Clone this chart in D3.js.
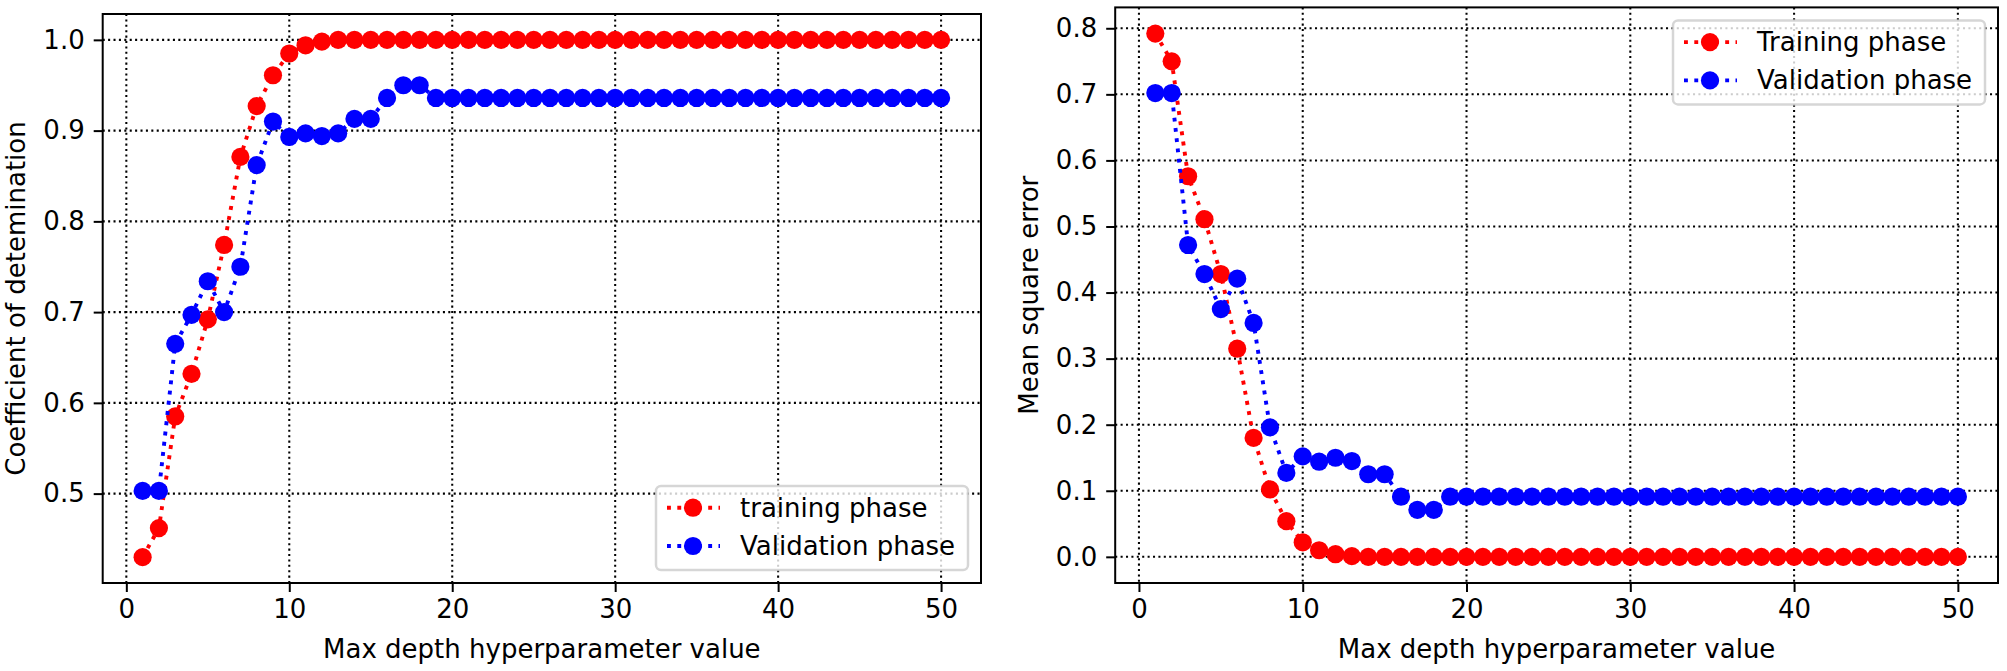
<!DOCTYPE html>
<html>
<head>
<meta charset="utf-8">
<script src="https://cdn.jsdelivr.net/npm/d3@7"></script>
<style>
  body { margin: 0; background: #fff; }
  svg text { font-family: "DejaVu Sans", sans-serif; }
</style>
</head>
<body>
<div id="chart"></div>
<script>
// max depth hyperparameter values (x)
var depth = [1, 2, 3, 4, 5, 6, 7, 8, 9, 10, 11, 12, 13, 14, 15, 16, 17, 18, 19, 20,
             21, 22, 23, 24, 25, 26, 27, 28, 29, 30, 31, 32, 33, 34, 35, 36, 37, 38, 39, 40,
             41, 42, 43, 44, 45, 46, 47, 48, 49, 50];

// left panel: coefficient of determination
var r2Train = [0.430, 0.462, 0.585, 0.632, 0.692, 0.774, 0.871, 0.927, 0.961, 0.985,
               0.994, 0.998, 1.0, 1.0, 1.0, 1.0, 1.0, 1.0, 1.0, 1.0,
               1.0, 1.0, 1.0, 1.0, 1.0, 1.0, 1.0, 1.0, 1.0, 1.0,
               1.0, 1.0, 1.0, 1.0, 1.0, 1.0, 1.0, 1.0, 1.0, 1.0,
               1.0, 1.0, 1.0, 1.0, 1.0, 1.0, 1.0, 1.0, 1.0, 1.0];
var r2Val = [0.503, 0.503, 0.665, 0.697, 0.734, 0.700, 0.750, 0.862, 0.910, 0.893,
             0.897, 0.894, 0.897, 0.913, 0.913, 0.936, 0.950, 0.950, 0.936, 0.936,
             0.936, 0.936, 0.936, 0.936, 0.936, 0.936, 0.936, 0.936, 0.936, 0.936,
             0.936, 0.936, 0.936, 0.936, 0.936, 0.936, 0.936, 0.936, 0.936, 0.936,
             0.936, 0.936, 0.936, 0.936, 0.936, 0.936, 0.936, 0.936, 0.936, 0.936];

// right panel: mean square error
var mseTrain = [0.792, 0.750, 0.576, 0.511, 0.428, 0.315, 0.180, 0.102, 0.054, 0.022,
                0.010, 0.004, 0.001, 0.0, 0.0, 0.0, 0.0, 0.0, 0.0, 0.0,
                0.0, 0.0, 0.0, 0.0, 0.0, 0.0, 0.0, 0.0, 0.0, 0.0,
                0.0, 0.0, 0.0, 0.0, 0.0, 0.0, 0.0, 0.0, 0.0, 0.0,
                0.0, 0.0, 0.0, 0.0, 0.0, 0.0, 0.0, 0.0, 0.0, 0.0];
var mseVal = [0.702, 0.702, 0.472, 0.428, 0.375, 0.421, 0.354, 0.196, 0.127, 0.152,
              0.144, 0.150, 0.145, 0.125, 0.125, 0.091, 0.071, 0.071, 0.091, 0.091,
              0.091, 0.091, 0.091, 0.091, 0.091, 0.091, 0.091, 0.091, 0.091, 0.091,
              0.091, 0.091, 0.091, 0.091, 0.091, 0.091, 0.091, 0.091, 0.091, 0.091,
              0.091, 0.091, 0.091, 0.091, 0.091, 0.091, 0.091, 0.091, 0.091, 0.091];

var xTicks = [0, 10, 20, 30, 40, 50];
var r2Ticks = [0.5, 0.6, 0.7, 0.8, 0.9, 1.0];
var mseTicks = [0.0, 0.1, 0.2, 0.3, 0.4, 0.5, 0.6, 0.7, 0.8];

var W = 2007, H = 671;
var fontPx = 26;
var svg = d3.select('#chart').append('svg').attr('width', W).attr('height', H);

function drawPanel(opt){
    var x = d3.scaleLinear().domain([-1.45, 52.45]).range([opt.left, opt.right]);
    var y = d3.scaleLinear().domain(opt.yDomain).range([opt.bottom, opt.top]);
    var g = svg.append('g');

    // grid (dotted)
    g.append('g').selectAll('line.vg').data(xTicks).enter().append('line')
        .attr('x1', function(d){return x(d)}).attr('x2', function(d){return x(d)})
        .attr('y1', opt.top).attr('y2', opt.bottom)
        .attr('stroke', '#000').attr('stroke-width', 2.05).attr('stroke-dasharray', '2.05,3.35');
    g.append('g').selectAll('line.hg').data(opt.yTicks).enter().append('line')
        .attr('y1', function(d){return y(d)}).attr('y2', function(d){return y(d)})
        .attr('x1', opt.left).attr('x2', opt.right)
        .attr('stroke', '#000').attr('stroke-width', 2.05).attr('stroke-dasharray', '2.05,3.35');

    // series
    var line = d3.line().x(function(d){return x(d[0])}).y(function(d){return y(d[1])});
    opt.series.forEach(function(s){
        var pts = depth.map(function(d, i){return [d, s.values[i]]});
        g.append('path').attr('d', line(pts)).attr('fill', 'none')
            .attr('stroke', s.color).attr('stroke-width', 3.9)
            .attr('stroke-dasharray', '3.9,6.4');
        g.append('g').selectAll('circle').data(pts).enter().append('circle')
            .attr('cx', function(d){return x(d[0])})
            .attr('cy', function(d){return y(d[1])})
            .attr('r', 9.1).attr('fill', s.color);
    });

    // axes
    var ax = g.append('g').attr('transform', 'translate(0,' + opt.bottom + ')')
        .call(d3.axisBottom(x).tickValues(xTicks).tickSize(9).tickPadding(8).tickFormat(d3.format('d')));
    var ay = g.append('g').attr('transform', 'translate(' + opt.left + ',0)')
        .call(d3.axisLeft(y).tickValues(opt.yTicks).tickSize(9).tickPadding(9).tickFormat(d3.format('.1f')));
    [ax, ay].forEach(function(a){
        a.select('.domain').remove();
        a.selectAll('line').attr('stroke', '#000').attr('stroke-width', 2);
        a.selectAll('text').attr('font-size', fontPx).attr('fill', '#000')
            .style('font-family', '"DejaVu Sans", sans-serif');
    });

    // frame
    g.append('rect').attr('x', opt.left).attr('y', opt.top)
        .attr('width', opt.right - opt.left).attr('height', opt.bottom - opt.top)
        .attr('fill', 'none').attr('stroke', '#000').attr('stroke-width', 2);

    // labels
    g.append('text').attr('x', (opt.left + opt.right) / 2).attr('y', 658)
        .attr('text-anchor', 'middle').attr('font-size', fontPx).text('Max depth hyperparameter value');
    g.append('text').attr('transform', 'translate(' + opt.ylabelX + ',' + ((opt.top + opt.bottom) / 2) + ') rotate(-90)')
        .attr('text-anchor', 'middle').attr('dy', '0.35em').attr('font-size', fontPx).text(opt.ylabel);

    // legend
    var lw = 312, lh = 84;
    var lx = opt.right - 13 - lw;
    var ly = opt.legendPos === 'lower' ? opt.bottom - 13 - lh : opt.top + 13;
    var lg = g.append('g').attr('transform', 'translate(' + lx + ',' + ly + ')');
    lg.append('rect').attr('width', lw).attr('height', lh).attr('rx', 5).attr('ry', 5)
        .attr('fill', 'rgba(255,255,255,0.8)').attr('stroke', 'rgba(204,204,204,0.8)').attr('stroke-width', 2.5);
    opt.series.forEach(function(s, i){
        var cy = 21.7 + i * 38.3;
        lg.append('line').attr('x1', 11).attr('x2', 64).attr('y1', cy).attr('y2', cy)
            .attr('stroke', s.color).attr('stroke-width', 3.9).attr('stroke-dasharray', '3.9,6.4');
        lg.append('circle').attr('cx', 37).attr('cy', cy).attr('r', 9.1).attr('fill', s.color);
        lg.append('text').attr('x', 84).attr('y', cy).attr('dy', '0.35em')
            .attr('font-size', fontPx).text(s.name);
    });
}

drawPanel({
    left: 102.7, right: 981, top: 14, bottom: 583,
    yDomain: [0.4015, 1.0285], yTicks: r2Ticks,
    ylabel: 'Coefficient of detemination', ylabelX: 16,
    legendPos: 'lower',
    series: [
        {name: 'training phase', color: 'red', values: r2Train},
        {name: 'Validation phase', color: 'blue', values: r2Val}
    ]
});

drawPanel({
    left: 1115.2, right: 1998, top: 7.4, bottom: 583,
    yDomain: [-0.0396, 0.8316], yTicks: mseTicks,
    ylabel: 'Mean square error', ylabelX: 1029,
    legendPos: 'upper',
    series: [
        {name: 'Training phase', color: 'red', values: mseTrain},
        {name: 'Validation phase', color: 'blue', values: mseVal}
    ]
});
</script>
</body>
</html>
